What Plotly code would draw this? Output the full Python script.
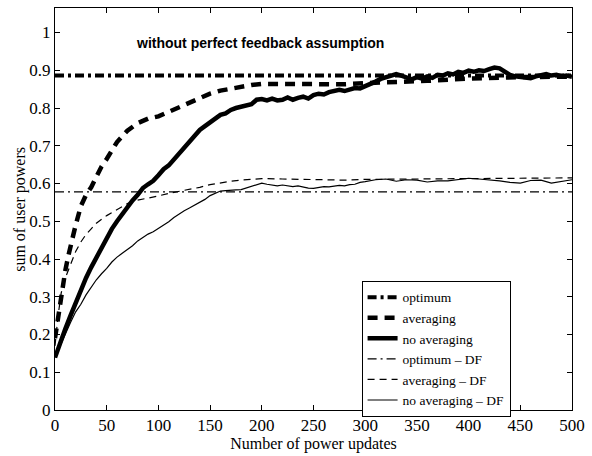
import plotly.graph_objects as go

# ---- data ----
opt_x = [0, 500]
opt_y = [0.886, 0.886]

avg_x = [0, 3, 6, 10, 13, 16, 20, 25, 30, 35, 40, 45, 50, 55, 60, 65, 70, 80, 90, 100,
         110, 120, 130, 140, 150, 160, 170, 180, 190, 200, 220, 240, 260, 280, 300, 330,
         360, 400, 450, 500]
avg_y = [0.19, 0.25, 0.30, 0.37, 0.41, 0.45, 0.49, 0.54, 0.57, 0.59, 0.62, 0.645, 0.665,
         0.69, 0.71, 0.725, 0.74, 0.76, 0.772, 0.778, 0.79, 0.80, 0.814, 0.826, 0.838,
         0.846, 0.852, 0.857, 0.861, 0.864, 0.864, 0.863, 0.862, 0.863, 0.866, 0.868,
         0.872, 0.878, 0.882, 0.883]

noavg_x = list(range(0, 505, 5))
noavg_y = [0.139, 0.18, 0.215, 0.25, 0.285, 0.315, 0.35, 0.378, 0.405, 0.431, 0.455,
           0.48, 0.50, 0.52, 0.54, 0.555, 0.57, 0.588, 0.598, 0.607, 0.622, 0.638, 0.648,
           0.664, 0.68, 0.694, 0.712, 0.728, 0.742, 0.752, 0.762, 0.772, 0.782, 0.786,
           0.795, 0.80, 0.803, 0.806, 0.81, 0.822, 0.824, 0.82, 0.825, 0.82, 0.822, 0.828,
           0.822, 0.827, 0.83, 0.825, 0.834, 0.838, 0.836, 0.842, 0.845, 0.848, 0.845,
           0.85, 0.853, 0.852, 0.857, 0.864, 0.87, 0.877, 0.882, 0.887, 0.89, 0.886, 0.88,
           0.876, 0.882, 0.878, 0.884, 0.88, 0.888, 0.886, 0.892, 0.889, 0.896, 0.893,
           0.899, 0.896, 0.90, 0.898, 0.903, 0.907, 0.905, 0.895, 0.888, 0.884, 0.882,
           0.879, 0.879, 0.884, 0.887, 0.89, 0.886, 0.888, 0.884, 0.886, 0.883]

optdf_x = [0, 500]
optdf_y = [0.578, 0.578]

avgdf_x = [0, 3, 6, 10, 15, 20, 25, 30, 35, 40, 50, 60, 70, 80, 90, 100, 110, 120, 130,
           140, 150, 160, 170, 180, 190, 200, 220, 250, 280, 300, 350, 400, 450, 500]
avgdf_y = [0.17, 0.25, 0.31, 0.35, 0.385, 0.42, 0.445, 0.465, 0.48, 0.495, 0.515, 0.532,
           0.547, 0.556, 0.561, 0.567, 0.574, 0.579, 0.583, 0.59, 0.597, 0.602, 0.606,
           0.609, 0.611, 0.613, 0.612, 0.61, 0.609, 0.611, 0.612, 0.614, 0.614, 0.615]

noavgdf_x = list(range(0, 300, 5)) + list(range(300, 510, 10))
noavgdf_y = [0.139, 0.17, 0.205, 0.232, 0.26, 0.28, 0.305, 0.325, 0.345, 0.361, 0.375,
             0.392, 0.405, 0.415, 0.425, 0.435, 0.448, 0.457, 0.466, 0.472, 0.481, 0.488,
             0.499, 0.51, 0.52, 0.528, 0.535, 0.542, 0.549, 0.558, 0.568, 0.575, 0.58,
             0.581, 0.583, 0.583, 0.584, 0.588, 0.592, 0.597, 0.601, 0.598, 0.595, 0.594,
             0.596, 0.593, 0.592, 0.594, 0.59, 0.588, 0.587, 0.589, 0.592, 0.591, 0.593,
             0.595, 0.594, 0.597, 0.598, 0.603,
             0.605, 0.61, 0.612, 0.606, 0.61, 0.609, 0.604, 0.607, 0.607, 0.611, 0.614,
             0.612, 0.61, 0.607, 0.603, 0.601, 0.608, 0.609, 0.601, 0.606, 0.61]

x_ticks = list(range(0, 550, 50))
y_ticks = [0, 0.1, 0.2, 0.3, 0.4, 0.5, 0.6, 0.7, 0.8, 0.9, 1]

SERIF = "Liberation Serif"

fig = go.Figure()
fig.add_trace(go.Scatter(x=opt_x, y=opt_y, mode="lines", name="optimum",
                         line=dict(color="black", width=4, dash="9px,4px,3px,4px")))
fig.add_trace(go.Scatter(x=avg_x, y=avg_y, mode="lines", name="averaging",
                         line=dict(color="black", width=4.5, dash="10px,7px")))
fig.add_trace(go.Scatter(x=noavg_x, y=noavg_y, mode="lines", name="no averaging",
                         line=dict(color="black", width=4.5)))
fig.add_trace(go.Scatter(x=optdf_x, y=optdf_y, mode="lines", name="optimum – DF",
                         line=dict(color="black", width=1.2, dash="9px,4px,2px,4px")))
fig.add_trace(go.Scatter(x=avgdf_x, y=avgdf_y, mode="lines", name="averaging – DF",
                         line=dict(color="black", width=1.2, dash="7px,5px")))
fig.add_trace(go.Scatter(x=noavgdf_x, y=noavgdf_y, mode="lines", name="no averaging – DF",
                         line=dict(color="black", width=1.2)))

axis_common = dict(showline=True, linecolor="black", linewidth=1, mirror="ticks",
                   ticks="inside", ticklen=5, tickcolor="black", showgrid=False,
                   zeroline=False, tickfont=dict(family=SERIF, size=17, color="black"))

fig.update_xaxes(range=[0, 500], tickvals=x_ticks,
                 title=dict(text="Number of power updates",
                            font=dict(family=SERIF, size=16, color="black"), standoff=2),
                 **axis_common)
fig.update_yaxes(range=[0, 1.065], tickvals=y_ticks, **axis_common)

# y-axis title as rotated text
fig.add_annotation(x=-0.068, y=0.5, xref="paper", yref="paper", showarrow=False,
                   text="sum of user powers", textangle=-90, xanchor="center",
                   yanchor="middle",
                   font=dict(family=SERIF, size=16, color="black"))

fig.add_annotation(x=198, y=0.971, xref="x", yref="y", showarrow=False,
                   text="<b>without perfect feedback assumption</b>",
                   font=dict(family="Liberation Sans", size=14, color="black"))

fig.update_layout(
    width=592, height=456,
    margin=dict(l=55, r=18, t=7, b=41),
    plot_bgcolor="white", paper_bgcolor="white",
    font=dict(family=SERIF, color="black"),
    showlegend=True,
    legend=dict(x=0.593, y=0.321, xanchor="left", yanchor="top",
                bordercolor="black", borderwidth=1, bgcolor="white",
                font=dict(family=SERIF, size=13.5, color="black"),
                tracegroupgap=0, itemwidth=30),
)

fig.write_html("out.html")
